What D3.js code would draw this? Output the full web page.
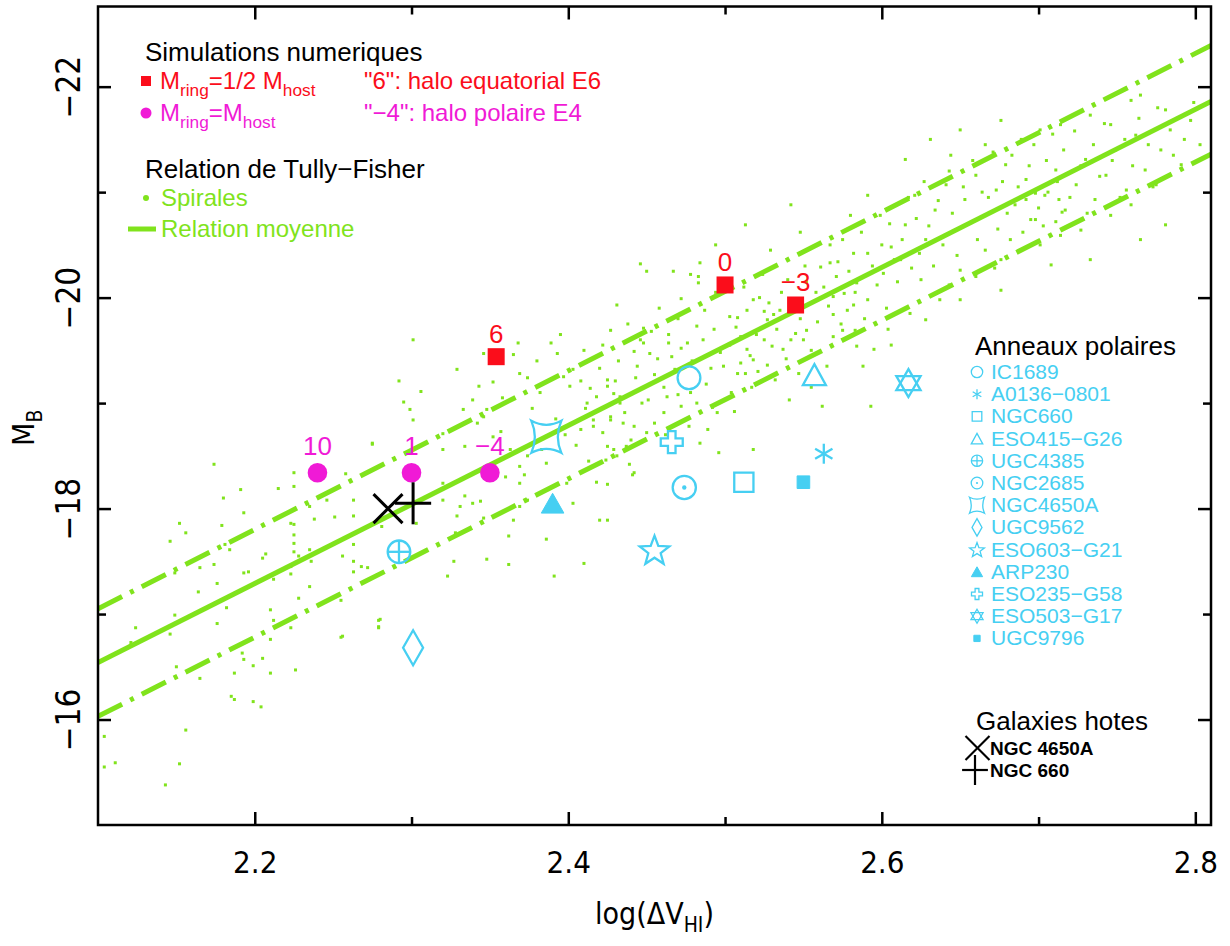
<!DOCTYPE html>
<html><head><meta charset="utf-8">
<script src="https://cdn.jsdelivr.net/npm/d3@7"></script>
<style>body{margin:0;background:#fff}svg{display:block}</style>
</head><body>
<svg id="c" width="1230" height="946"></svg>
<script>
// ---------------- DATA ----------------
const xTicksMajor = [2.2, 2.4, 2.6, 2.8];
const xTicksMinor = [2.3, 2.5, 2.7];
const yTicksMajor = [-22, -20, -18, -16];
const yTicksMinor = [-21, -19, -17];

// Tully-Fisher mean relation and its +/- envelope (end points)
const tfLogV  = [2.10, 2.81];
const tfMean  = [-16.54, -21.86];
const tfUpper = [-17.05, -22.39];
const tfLower = [-16.03, -21.36];

// Numerical simulations
const simHalfLabels = ["6", "0", "\u22123"];
const simHalfLogV   = [2.354, 2.500, 2.545];
const simHalfMB     = [-19.44, -20.12, -19.93];
const simFullLabels = ["10", "1", "\u22124"];
const simFullLogV   = [2.240, 2.300, 2.350];
const simFullMB     = [-18.34, -18.34, -18.34];

// Polar rings
const ringNames = ["IC1689","A0136\u22120801","NGC660","ESO415\u2212G26","UGC4385","NGC2685","NGC4650A","UGC9562","ESO603\u2212G21","ARP230","ESO235\u2212G58","ESO503\u2212G17","UGC9796"];
const ringLogV  = [2.477, 2.563, 2.512, 2.557, 2.292, 2.474, 2.386, 2.301, 2.455, 2.390, 2.466, 2.617, 2.550];
const ringMB    = [-19.24, -18.52, -18.25, -19.27, -17.59, -18.20, -18.68, -16.68, -17.61, -18.05, -18.63, -19.19, -18.25];

// Host galaxies
const hostNames = ["NGC 4650A", "NGC 660"];
const hostLogV  = [2.285, 2.301];
const hostMB    = [-18.00, -18.05];

// Spiral galaxies (log dV, M_B)
const spiralPoints = [
[2.174,-18.42],[2.191,-18.18],[2.180,-18.10],[2.193,-17.96],[2.152,-17.86],[2.156,-17.77],[2.146,-17.69],[2.179,-17.84],[2.181,-17.66],[2.184,-17.61],
[2.174,-17.47],[2.165,-17.44],[2.149,-17.39],[2.164,-17.21],[2.176,-17.29],[2.193,-17.39],[2.196,-17.40],[2.205,-17.53],[2.207,-17.57],[2.212,-17.33],
[2.223,-17.38],[2.223,-17.45],[2.225,-18.21],[2.225,-18.34],[2.215,-18.19],[2.223,-17.86],[2.225,-17.85],[2.225,-17.75],[2.225,-17.67],[2.225,-17.59],
[2.228,-17.55],[2.235,-17.61],[2.236,-17.50],[2.235,-18.02],[2.238,-17.90],[2.246,-18.08],[2.251,-17.92],[2.258,-18.33],[2.263,-18.08],[2.263,-17.93],
[2.263,-17.66],[2.263,-17.50],[2.263,-17.40],[2.256,-17.55],[2.268,-17.45],[2.272,-17.44],[2.275,-18.62],[2.279,-16.94],[2.279,-16.87],[2.281,-17.83],
[2.210,-17.04],[2.212,-16.94],[2.210,-16.76],[2.223,-16.87],[2.228,-17.15],[2.235,-17.26],[2.226,-16.47],[2.210,-16.44],[2.205,-16.58],[2.199,-16.51],
[2.193,-16.57],[2.187,-16.44],[2.192,-16.63],[2.182,-17.06],[2.176,-16.91],[2.165,-16.39],[2.150,-16.50],[2.146,-16.81],[2.149,-16.99],[2.124,-16.87],
[2.121,-16.73],[2.185,-16.22],[2.187,-16.19],[2.199,-16.17],[2.204,-16.12],[2.104,-15.84],[2.104,-15.55],[2.111,-15.59],[2.156,-15.90],[2.152,-15.58],
[2.143,-15.38],[2.255,-16.78],[2.255,-17.13],
[2.301,-19.60],[2.329,-19.32],[2.292,-19.21],[2.306,-19.11],[2.295,-19.01],[2.299,-18.94],[2.301,-18.84],[2.275,-18.61],[2.320,-18.71],[2.320,-18.56],
[2.346,-19.47],[2.368,-19.57],[2.365,-19.46],[2.369,-19.28],[2.374,-19.24],[2.343,-19.16],[2.339,-19.03],[2.333,-18.94],[2.348,-18.94],[2.346,-18.87],
[2.342,-18.81],[2.334,-18.59],[2.352,-18.68],[2.357,-18.73],[2.363,-18.56],[2.369,-18.40],[2.372,-18.32],[2.389,-19.57],[2.393,-19.47],[2.397,-19.25],
[2.401,-19.16],[2.403,-19.32],[2.408,-19.21],[2.414,-19.14],[2.420,-19.33],[2.425,-19.22],[2.412,-19.00],[2.418,-19.06],[2.429,-19.09],[2.433,-19.00],
[2.411,-18.95],[2.416,-18.84],[2.427,-18.87],[2.435,-18.81],[2.408,-18.75],[2.416,-18.78],[2.422,-18.72],[2.429,-18.56],[2.437,-18.59],[2.442,-18.34],
[2.439,-18.42],[2.399,-18.24],[2.420,-17.89],[2.386,-17.71],[2.391,-17.36],[2.410,-17.48],[2.362,-17.47],[2.323,-17.36],[2.327,-17.50],[2.348,-17.52],
[2.362,-17.74],[2.365,-17.89],[2.280,-16.95],[2.279,-16.88],[2.256,-16.79],[2.303,-17.86],[2.331,-18.02],[2.334,-18.12],[2.339,-18.05],[2.344,-18.07],
[2.346,-17.91],[2.329,-17.93],[2.328,-17.77],[2.320,-18.08],[2.320,-18.24],[2.369,-18.24],[2.374,-18.08],[2.369,-18.02],[2.383,-18.56],[2.386,-18.43],
[2.374,-18.50],
[2.446,-20.32],[2.450,-20.25],[2.467,-20.25],[2.472,-19.99],[2.484,-20.33],[2.483,-20.20],[2.483,-20.14],[2.478,-20.22],[2.431,-19.93],[2.427,-19.69],
[2.448,-19.71],[2.453,-19.68],[2.464,-19.65],[2.464,-19.57],[2.476,-19.57],[2.482,-19.73],[2.442,-19.49],[2.452,-19.47],[2.448,-19.57],[2.446,-19.60],
[2.430,-19.21],[2.425,-19.16],[2.433,-19.06],[2.436,-18.91],[2.427,-18.84],[2.443,-19.24],[2.455,-19.27],[2.463,-19.06],[2.468,-19.32],[2.470,-19.08],
[2.447,-19.00],[2.451,-19.03],[2.461,-18.91],[2.455,-18.81],[2.442,-18.78],[2.450,-18.72],[2.440,-18.65],[2.425,-18.23],[2.441,-18.32],[2.472,-18.97],
[2.482,-19.00],[2.477,-18.78],[2.484,-18.62],[2.489,-18.75],[2.496,-18.53],[2.495,-18.91],[2.506,-18.92],[2.491,-19.33],[2.499,-19.35],[2.508,-19.28],
[2.513,-19.28],[2.510,-19.38],[2.503,-19.82],[2.508,-19.81],[2.514,-19.88],[2.518,-19.98],[2.522,-20.00],[2.525,-19.87],[2.527,-19.79],[2.531,-19.84],
[2.535,-19.88],[2.528,-19.95],[2.510,-19.63],[2.520,-19.65],[2.514,-19.51],[2.525,-19.60],[2.530,-19.54],[2.518,-19.41],[2.527,-19.36],[2.537,-19.51],
[2.542,-19.60],[2.545,-19.66],[2.550,-19.60],[2.552,-19.69],[2.559,-19.77],[2.569,-19.84],[2.578,-19.88],[2.540,-20.17],[2.552,-20.15],[2.561,-20.29],
[2.567,-20.33],[2.572,-20.34],[2.569,-20.01],[2.576,-20.04],[2.582,-19.93],[2.591,-19.98],[2.584,-20.14],[2.601,-20.23],[2.608,-20.36],[2.606,-20.48],
[2.582,-20.42],[2.591,-20.42],[2.584,-19.54],[2.595,-19.51],[2.569,-19.63],[2.575,-19.69],[2.565,-19.35],[2.562,-18.97],[2.593,-18.97],[2.541,-19.03],
[2.518,-18.56],[2.425,-17.89],[2.431,-18.50],[2.425,-18.59],[2.424,-18.46],
[2.599,-20.78],[2.609,-20.88],[2.615,-20.69],[2.621,-20.97],[2.628,-20.55],[2.634,-20.83],[2.641,-21.07],[2.647,-20.64],[2.653,-20.93],[2.660,-21.16],
[2.666,-20.78],[2.673,-21.02],[2.679,-21.26],[2.685,-20.88],[2.692,-21.12],[2.698,-20.74],[2.704,-20.97],[2.711,-21.21],[2.717,-20.83],[2.724,-21.07],
[2.730,-21.31],[2.736,-20.93],[2.743,-21.16],[2.749,-21.40],[2.756,-21.02],[2.762,-21.54],[2.768,-21.21],[2.778,-21.40],[2.784,-21.59],[2.791,-21.26],
[2.797,-21.68],[2.803,-21.45],[2.612,-20.36],[2.625,-20.17],[2.637,-19.98],[2.650,-20.26],[2.666,-20.45],[2.676,-20.36],[2.682,-20.55],[2.701,-20.50],
[2.714,-20.59],[2.727,-20.64],[2.746,-20.78],[2.759,-20.88],[2.775,-21.07],[2.615,-21.31],[2.631,-21.50],[2.644,-21.35],[2.650,-21.59],[2.666,-21.45],
[2.676,-21.68],[2.689,-21.50],[2.701,-21.59],[2.714,-21.64],[2.733,-21.73],[2.746,-21.64],[2.759,-21.87],[2.765,-21.92],[2.781,-21.78],
[2.692,-20.93],[2.698,-20.99],[2.706,-21.00],[2.713,-20.93],[2.715,-20.81],[2.711,-20.72],[2.703,-20.68],[2.695,-20.74],
[2.513,-20.69],[2.529,-20.45],[2.548,-20.62],[2.567,-20.50],[2.580,-20.78],[2.591,-20.97],[2.542,-20.88],[2.494,-20.50],
[2.583,-19.69],[2.606,-19.55],[2.628,-19.79],[2.650,-19.98],[2.676,-20.07],[2.708,-20.31],[2.733,-20.36],[2.765,-20.55],[2.781,-20.69],
[2.444,-19.35],[2.457,-19.42],[2.461,-19.15],[2.466,-19.44],[2.472,-19.52],[2.479,-19.40],[2.486,-19.60],[2.488,-19.18],[2.493,-19.70],[2.497,-19.48],
[2.458,-19.90],[2.470,-19.80],[2.487,-19.88],[2.494,-20.05],[2.462,-18.70],[2.478,-19.10],[2.492,-18.96],
[2.503,-19.55],[2.507,-19.72],[2.512,-20.10],[2.516,-19.45],[2.521,-19.30],[2.524,-20.22],[2.533,-19.70],[2.536,-20.05],[2.539,-19.42],[2.544,-19.95],
[2.548,-19.80],[2.551,-20.30],[2.555,-19.50],[2.558,-20.05],[2.504,-19.10],[2.517,-19.15],[2.532,-19.22],[2.547,-19.28],[2.555,-19.15],
[2.563,-20.10],[2.566,-19.92],[2.571,-20.20],[2.574,-19.75],[2.579,-20.25],[2.583,-20.05],[2.587,-20.62],[2.589,-19.80],[2.594,-20.30],[2.597,-20.12],
[2.600,-20.50],[2.603,-19.90],[2.605,-20.70],[2.610,-20.15],[2.613,-20.55],[2.617,-20.95],[2.619,-20.28],[2.622,-20.75],[2.588,-19.35],[2.604,-19.70],
[2.618,-19.85],[2.575,-20.55],
[2.624,-20.42],[2.627,-21.10],[2.630,-20.68],[2.633,-20.30],[2.636,-20.92],[2.639,-20.50],[2.643,-21.20],[2.645,-20.80],[2.648,-20.40],[2.652,-21.05],
[2.655,-20.70],[2.658,-21.30],[2.661,-20.55],[2.664,-21.00],[2.668,-20.95],[2.671,-21.38],[2.674,-20.65],[2.677,-21.10],[2.680,-20.80],[2.643,-20.12],
[2.660,-20.20],[2.672,-20.28],
[2.683,-21.35],[2.687,-21.05],[2.690,-20.62],[2.694,-21.25],[2.697,-21.45],[2.700,-20.85],[2.705,-21.30],[2.709,-21.55],[2.712,-21.10],[2.716,-21.40],
[2.720,-20.95],[2.723,-21.58],[2.727,-21.25],[2.731,-20.80],[2.735,-21.45],[2.739,-21.15],[2.742,-21.65],[2.747,-21.30],[2.752,-20.95],[2.755,-21.50],
[2.760,-21.25],[2.764,-21.70],[2.770,-21.45],[2.773,-21.05],[2.776,-21.80],[2.786,-21.35],[2.793,-21.50],[2.799,-21.85],
[2.352,-19.20],[2.358,-19.05],[2.377,-18.95],[2.382,-19.10],[2.392,-18.85],[2.398,-18.70],[2.405,-18.60],[2.413,-18.45],[2.380,-19.40],[2.395,-19.65],
[2.410,-19.50],[2.422,-19.55],[2.432,-19.40],[2.438,-19.75],[2.360,-18.30],[2.387,-18.18],[2.403,-18.05],[2.418,-18.25]
];

// ---------------- STYLE ----------------
const GREEN = "#80e31c", RED = "#fb0d1b", MAG = "#f01ad6", CYAN = "#46cff2";
const AXF = "'DejaVu Sans Condensed','Liberation Sans Narrow','DejaVu Sans',sans-serif";
const LGF = "'Liberation Sans',Arial,sans-serif";
const ringSymbol = {"IC1689":"circle","A0136\u22120801":"asterisk","NGC660":"square","ESO415\u2212G26":"triangle","UGC4385":"circleplus","NGC2685":"circledot","NGC4650A":"concave","UGC9562":"diamond","ESO603\u2212G21":"star","ARP230":"filltriangle","ESO235\u2212G58":"cross","ESO503\u2212G17":"david","UGC9796":"fillsquare"};

const svg = d3.select("#c");
const x = d3.scaleLinear().domain([2.1, 2.81]).range([98, 1211]);
const y = d3.scaleLinear().domain([-15, -22.76]).range([825, 6.5]);
const [X0, X1] = x.range(), [Y0, Y1] = y.range();

svg.append("clipPath").attr("id","clip").append("rect")
  .attr("x", X0).attr("y", Y1).attr("width", X1 - X0).attr("height", Y0 - Y1);

// spirals
svg.append("g").attr("clip-path","url(#clip)").selectAll("rect").data(spiralPoints).join("rect")
  .attr("x", d => x(d[0]) - 1.5).attr("y", d => y(d[1]) - 1.5)
  .attr("width", 3).attr("height", 3).attr("fill", GREEN);

// TF lines
const lg = svg.append("g").attr("clip-path","url(#clip)");
const lineGen = d3.line().x(d => x(d[0])).y(d => y(d[1]));
const mk = arr => tfLogV.map((v,i) => [v, arr[i]]);
lg.append("path").attr("d", lineGen(mk(tfMean))).attr("stroke", GREEN).attr("stroke-width", 5).attr("fill","none");
[tfUpper, tfLower].forEach(a => lg.append("path").attr("d", lineGen(mk(a)))
  .attr("stroke", GREEN).attr("stroke-width", 5).attr("fill","none").attr("stroke-dasharray","27,9,4,9"));

// axes
function styleAxis(g){ g.select(".domain").remove(); g.selectAll(".tick line").attr("stroke","#000").attr("stroke-width",2.5); }
svg.append("g").attr("transform",`translate(0,${Y0})`)
  .call(d3.axisBottom(x).tickValues(xTicksMajor).tickSize(-13).tickPadding(26).tickFormat(d3.format(".1f")))
  .call(styleAxis).call(g => g.selectAll("text").attr("font-family",AXF).attr("font-size",31).attr("fill","#000"));
svg.append("g").attr("transform",`translate(0,${Y0})`).call(d3.axisBottom(x).tickValues(xTicksMinor).tickSize(-8).tickFormat("")).call(styleAxis);
svg.append("g").attr("transform",`translate(0,${Y1})`).call(d3.axisTop(x).tickValues(xTicksMajor).tickSize(-13).tickFormat("")).call(styleAxis);
svg.append("g").attr("transform",`translate(0,${Y1})`).call(d3.axisTop(x).tickValues(xTicksMinor).tickSize(-8).tickFormat("")).call(styleAxis);
svg.append("g").attr("transform",`translate(${X0},0)`)
  .call(d3.axisLeft(y).tickValues(yTicksMajor).tickSize(-13).tickFormat(d3.format("d")))
  .call(styleAxis).call(g => g.selectAll("text").attr("x",0).attr("dy",0).attr("text-anchor","middle")
     .attr("transform","translate(-18,0) rotate(-90)").attr("font-family",AXF).attr("font-size",33).attr("fill","#000"));
svg.append("g").attr("transform",`translate(${X0},0)`).call(d3.axisLeft(y).tickValues(yTicksMinor).tickSize(-8).tickFormat("")).call(styleAxis);
svg.append("g").attr("transform",`translate(${X1},0)`).call(d3.axisRight(y).tickValues(yTicksMajor).tickSize(-13).tickFormat("")).call(styleAxis);
svg.append("g").attr("transform",`translate(${X1},0)`).call(d3.axisRight(y).tickValues(yTicksMinor).tickSize(-8).tickFormat("")).call(styleAxis);
svg.append("rect").attr("x",X0).attr("y",Y1).attr("width",X1-X0).attr("height",Y0-Y1)
  .attr("fill","none").attr("stroke","#000").attr("stroke-width",2.5);

// axis titles
const xt = svg.append("text").attr("x",(X0+X1)/2 + 0).attr("y",924).attr("text-anchor","middle")
  .attr("font-family",AXF).attr("font-size",30).attr("fill","#000");
xt.append("tspan").text("log(\u0394V");
xt.append("tspan").attr("dy",8).attr("font-size",21).text("HI");
xt.append("tspan").attr("dy",-8).text(")");
const yt = svg.append("text").attr("transform",`translate(34,${(Y0+Y1)/2 + 12}) rotate(-90)`).attr("text-anchor","middle")
  .attr("font-family",AXF).attr("font-size",30).attr("fill","#000");
yt.append("tspan").text("M");
yt.append("tspan").attr("dy",8).attr("font-size",21).text("B");

// symbols
function drawSymbol(g, type, s, col, sw){
  const line=(a,b,c,d)=>g.append("line").attr("x1",a*s).attr("y1",b*s).attr("x2",c*s).attr("y2",d*s).attr("stroke",col).attr("stroke-width",sw);
  const poly=(pts,fill)=>g.append("path").attr("d","M"+pts.map(p=>(p[0]*s).toFixed(2)+","+(p[1]*s).toFixed(2)).join("L")+"Z")
     .attr("fill",fill?col:"none").attr("stroke",col).attr("stroke-width",fill?1:sw);
  const circ=(r,fill)=>g.append("circle").attr("r",r*s).attr("fill",fill?col:"none").attr("stroke",col).attr("stroke-width",fill?0:sw);
  const ang = Math.PI/180;
  switch(type){
    case "circle": circ(11.4); break;
    case "circleplus": circ(11.3); line(-11.3,0,11.3,0); line(0,-11.3,0,11.3); break;
    case "circledot": circ(11.6); circ(2.2,true); break;
    case "asterisk": [90,30,-30].forEach(a=>{const c=Math.cos(a*ang)*10,d=Math.sin(a*ang)*10; line(-c,-d,c,d);}); break;
    case "square": poly([[-9.6,-9.6],[9.6,-9.6],[9.6,9.6],[-9.6,9.6]]); break;
    case "fillsquare": poly([[-6.3,-6.3],[6.3,-6.3],[6.3,6.3],[-6.3,6.3]],true); break;
    case "triangle": poly([[0,-10.5],[11.5,10.5],[-11.5,10.5]]); break;
    case "filltriangle": poly([[0,-10],[11.3,9.8],[-11.3,9.8]],true); break;
    case "diamond": poly([[0,-17.5],[10,0],[0,17.5],[-10,0]]); break;
    case "star": { const pts=[]; for(let k=0;k<10;k++){const r=k%2?6.5:15.5, a=(-90+36*k)*ang; pts.push([r*Math.cos(a), r*Math.sin(a)+1.5]);} poly(pts); break; }
    case "cross": { const a=3.8,b=11; poly([[-a,-b],[a,-b],[a,-a],[b,-a],[b,a],[a,a],[a,b],[-a,b],[-a,a],[-b,a],[-b,-a],[-a,-a]]); break; }
    case "david": { const R=14; poly([-90,30,150].map(a=>[R*Math.cos(a*ang),R*Math.sin(a*ang)])); poly([90,210,330].map(a=>[R*Math.cos(a*ang),R*Math.sin(a*ang)])); break; }
    case "concave": g.append("path").attr("d",`M${-15*s},${-16*s}Q0,${-8*s} ${15*s},${-16*s}Q${8*s},0 ${15*s},${16*s}Q0,${8*s} ${-15*s},${16*s}Q${-8*s},0 ${-15*s},${-16*s}Z`)
       .attr("fill","none").attr("stroke",col).attr("stroke-width",sw); break;
    case "xcross": line(-1,-1,1,1); line(-1,1,1,-1); break;
    case "plus": line(-0.86,0,0.86,0); line(0,-1,0,1); break;
  }
}

// polar rings in plot
ringNames.forEach((n,i)=>{
  const g = svg.append("g").attr("transform",`translate(${x(ringLogV[i])},${y(ringMB[i])})`);
  drawSymbol(g, ringSymbol[n], 1, CYAN, 2.3);
});

// simulations
simHalfLogV.forEach((v,i)=>{
  const cx=x(v), cy=y(simHalfMB[i]);
  svg.append("rect").attr("x",cx-8.5).attr("y",cy-8.5).attr("width",17).attr("height",17).attr("fill",RED);
  svg.append("text").attr("x",cx).attr("y",cy-14).attr("text-anchor","middle").attr("font-family",LGF).attr("font-size",26).attr("fill",RED).text(simHalfLabels[i]);
});
simFullLogV.forEach((v,i)=>{
  const cx=x(v), cy=y(simFullMB[i]);
  svg.append("circle").attr("cx",cx).attr("cy",cy).attr("r",9.8).attr("fill",MAG);
  svg.append("text").attr("x",cx).attr("y",cy-18).attr("text-anchor","middle").attr("font-family",LGF).attr("font-size",26).attr("fill",MAG).text(simFullLabels[i]);
});

// hosts
const hostSym = ["xcross","plus"];
hostLogV.forEach((v,i)=>{
  const g = svg.append("g").attr("transform",`translate(${x(v)},${y(hostMB[i])})`);
  drawSymbol(g, hostSym[i], i===0?14.5:21, "#000", 3);
});

// ---------------- LEGENDS ----------------
function txt(xp, yp, size, col, parts, weight){
  const t = svg.append("text").attr("x",xp).attr("y",yp).attr("font-family",LGF).attr("font-size",size).attr("fill",col).attr("font-weight",weight||"normal");
  let sub=false;
  parts.forEach(p=>{
    const isSub = p.startsWith("_");
    const s = t.append("tspan").text(isSub? p.slice(1): p);
    if(isSub && !sub){ s.attr("dy",7).attr("font-size",size*0.72); sub=true; }
    else if(!isSub && sub){ s.attr("dy",-7); sub=false; }
    else if(isSub) s.attr("font-size",size*0.72);
  });
  return t;
}
txt(145, 61, 26, "#000", ["Simulations numeriques"]);
svg.append("rect").attr("x",141).attr("y",76).attr("width",10).attr("height",10).attr("fill",RED);
txt(160, 89, 24, RED, ["M","_ring","=1/2 M","_host"]);
txt(364, 89, 24, RED, ["\"6\": halo equatorial E6"]);
svg.append("circle").attr("cx",146).attr("cy",113).attr("r",5.5).attr("fill",MAG);
txt(160, 121, 24, MAG, ["M","_ring","=M","_host"]);
txt(364, 121, 24, MAG, ["\"\u22124\": halo polaire E4"]);
txt(145, 178, 26, "#000", ["Relation de Tully\u2212Fisher"]);
svg.append("circle").attr("cx",146).attr("cy",198).attr("r",3).attr("fill",GREEN);
txt(161, 206, 24, GREEN, ["Spirales"]);
svg.append("line").attr("x1",128).attr("x2",156).attr("y1",229).attr("y2",229).attr("stroke",GREEN).attr("stroke-width",5);
txt(161, 237, 24, GREEN, ["Relation moyenne"]);

txt(975, 355, 26, "#000", ["Anneaux polaires"]);
ringNames.forEach((n,i)=>{
  const by = 379 + i*22.2;
  const g = svg.append("g").attr("transform",`translate(977,${by-7})`);
  drawSymbol(g, ringSymbol[n], 0.5, CYAN, 1.3);
  txt(991, by, 21, CYAN, [n]);
});

txt(976, 730, 26, "#000", ["Galaxies hotes"]);
hostNames.forEach((n,i)=>{
  const by = 755 + i*22;
  const g = svg.append("g").attr("transform",`translate(${i===0?977.5:975},${by-7})`);
  drawSymbol(g, hostSym[i], i===0?12:15, "#000", 2.2);
  txt(990, by, 19, "#000", [n], "bold");
});
</script>
</body></html>
